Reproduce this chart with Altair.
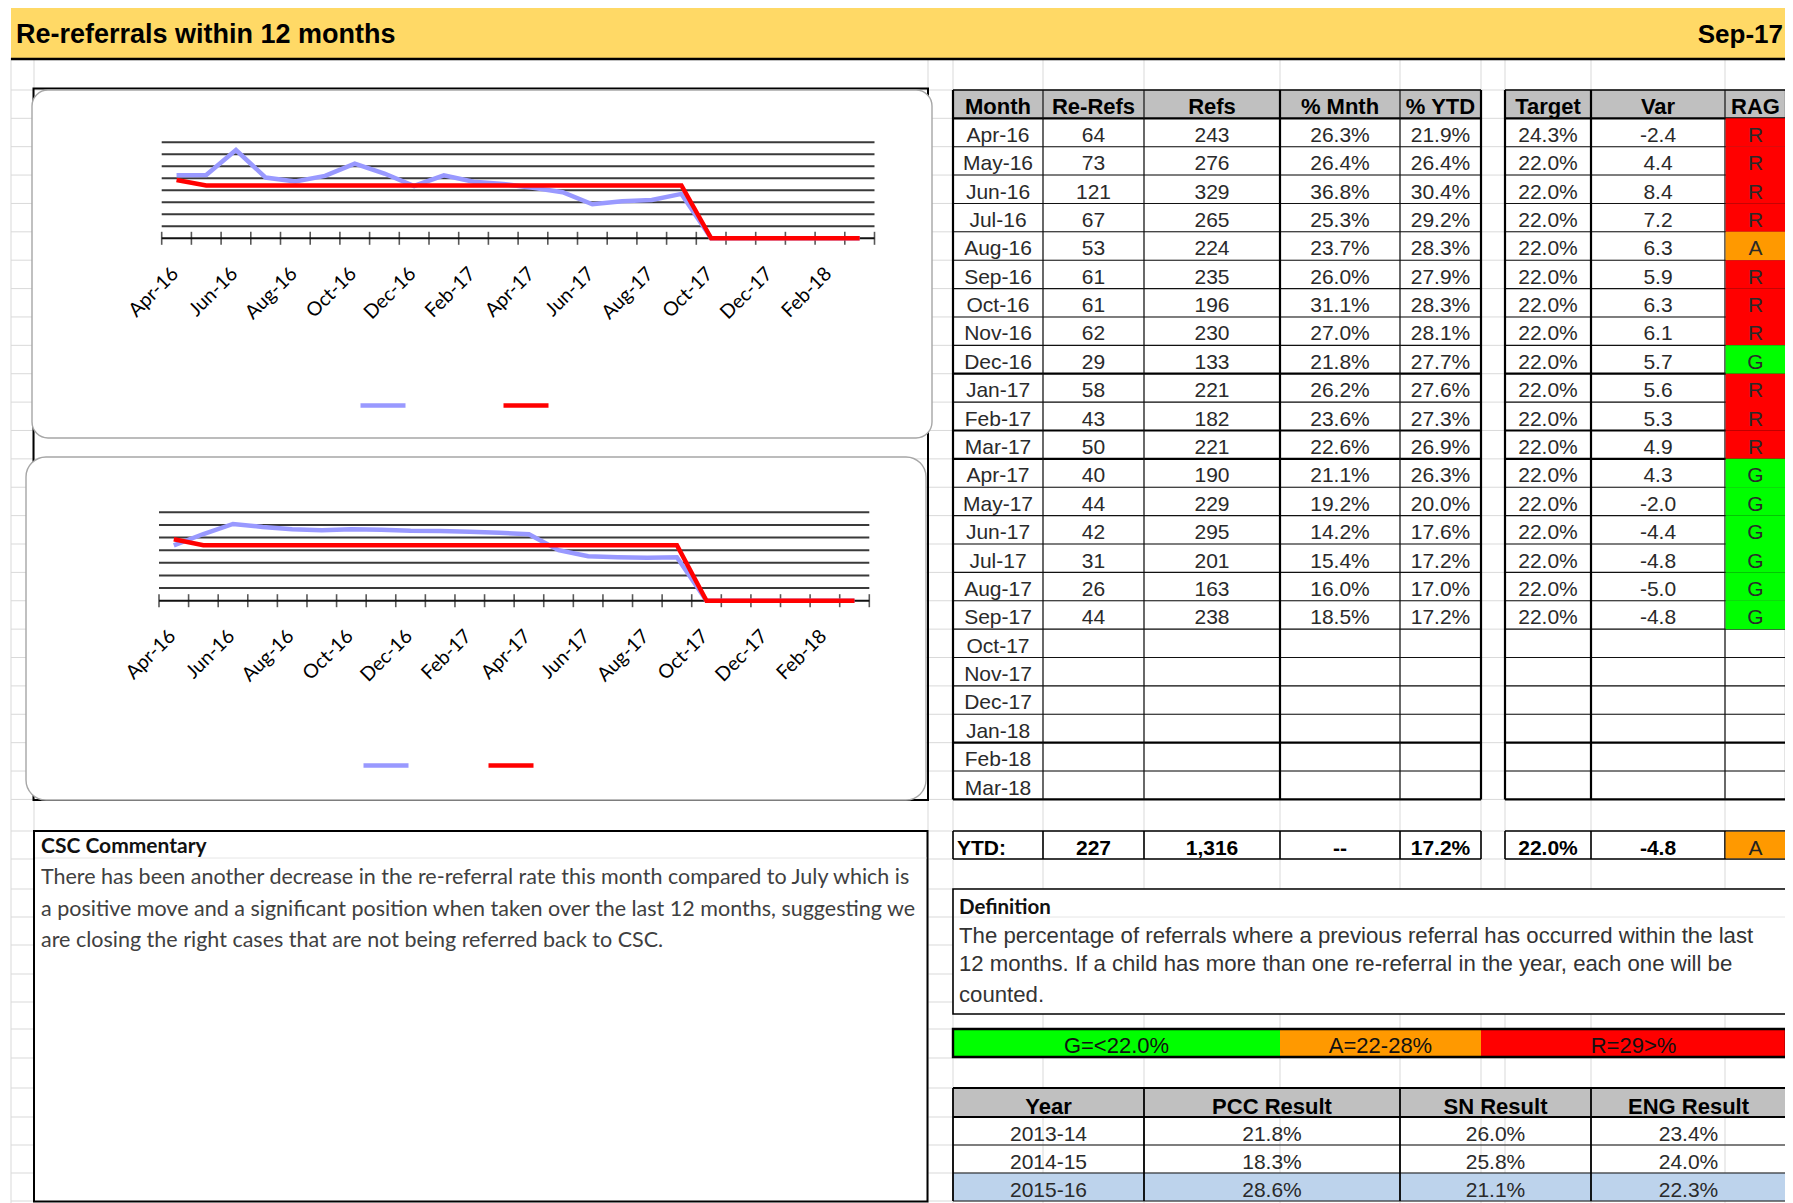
import altair as alt
import pandas as pd

# ------------------------------------------------------------------ data
months = ["Apr-16", "May-16", "Jun-16", "Jul-16", "Aug-16", "Sep-16", "Oct-16",
          "Nov-16", "Dec-16", "Jan-17", "Feb-17", "Mar-17", "Apr-17", "May-17",
          "Jun-17", "Jul-17", "Aug-17", "Sep-17", "Oct-17", "Nov-17", "Dec-17",
          "Jan-18", "Feb-18", "Mar-18"]
re_refs = [64, 73, 121, 67, 53, 61, 61, 62, 29, 58, 43, 50, 40, 44, 42, 31, 26, 44]
refs = [243, 276, 329, 265, 224, 235, 196, 230, 133, 221, 182, 221, 190, 229, 295, 201, 163, 238]
pct_mnth = [26.3, 26.4, 36.8, 25.3, 23.7, 26.0, 31.1, 27.0, 21.8, 26.2, 23.6, 22.6,
            21.1, 19.2, 14.2, 15.4, 16.0, 18.5]
pct_ytd = [21.9, 26.4, 30.4, 29.2, 28.3, 27.9, 28.3, 28.1, 27.7, 27.6, 27.3, 26.9,
           26.3, 20.0, 17.6, 17.2, 17.0, 17.2]
target = [24.3, 22.0, 22.0, 22.0, 22.0, 22.0, 22.0, 22.0, 22.0, 22.0, 22.0, 22.0,
          22.0, 22.0, 22.0, 22.0, 22.0, 22.0]
var = [-2.4, 4.4, 8.4, 7.2, 6.3, 5.9, 6.3, 6.1, 5.7, 5.6, 5.3, 4.9, 4.3, -2.0, -4.4, -4.8, -5.0, -4.8]
rag = ["R", "R", "R", "R", "A", "R", "R", "R", "G", "R", "R", "R", "G", "G", "G", "G", "G", "G"]

# series as plotted in the two charts (blank months are plotted as 0)
chart_mnth = [26.3, 26.4, 36.8, 25.3, 23.7, 26.0, 31.1, 27.0, 21.8, 26.2, 23.6, 22.6,
              21.1, 19.2, 14.2, 15.4, 16.0, 18.5, 0, 0, 0, 0, 0, 0]
chart_ytd = [21.9, 26.4, 30.4, 29.2, 28.3, 27.9, 28.3, 28.1, 27.7, 27.6, 27.3, 26.9,
             26.3, 20.0, 17.6, 17.2, 17.0, 17.2, 0, 0, 0, 0, 0, 0]
chart_target = [24.3, 22.0, 22.0, 22.0, 22.0, 22.0, 22.0, 22.0, 22.0, 22.0, 22.0, 22.0,
                22.0, 22.0, 22.0, 22.0, 22.0, 22.0, 0, 0, 0, 0, 0, 0]
axis_labels = ["Apr-16", "Jun-16", "Aug-16", "Oct-16", "Dec-16", "Feb-17",
               "Apr-17", "Jun-17", "Aug-17", "Oct-17", "Dec-17", "Feb-18"]
top_grid = [0.05, 0.10, 0.15, 0.20, 0.25, 0.30, 0.35, 0.40]
bottom_grid = [0.05, 0.10, 0.15, 0.20, 0.25, 0.30, 0.35]

headers = ["Month", "Re-Refs", "Refs", "% Mnth", "% YTD", "Target", "Var", "RAG"]
ytd_row = ["YTD:", "227", "1,316", "--", "17.2%", "22.0%", "-4.8", "A"]
ytd_rag = "A"

years = ["2013-14", "2014-15", "2015-16"]
pcc = [21.8, 18.3, 28.6]
sn = [26.0, 25.8, 21.1]
eng = [23.4, 24.0, 22.3]
year_headers = ["Year", "PCC Result", "SN Result", "ENG Result"]
rag_bands = ["G=<22.0%", "A=22-28%", "R=29>%"]

title = "Re-referrals within 12 months"
period = "Sep-17"
commentary_title = "CSC Commentary"
commentary = [
    "There has been another decrease in the re-referral rate this month compared to July  which is",
    "a positive move and a significant position when taken over the last 12 months, suggesting we",
    "are closing the right cases that are not being referred back to CSC.",
]
definition_title = "Definition"
definition = [
    "The percentage of referrals where a previous referral has occurred within the last",
    "12 months. If a child has more than one re-referral in the year, each one will be",
    "counted.",
]

# ------------------------------------------------------------------ layout / style
W, H, O = 1777, 1195, 8
SANS = "Liberation Sans, Arial, sans-serif"
CAL = "Lato, Carlito, Calibri, sans-serif"
RAG_COL = {"R": "#FF0000", "A": "#FF9900", "G": "#00FF00"}
GRID = "#D9D9D9"

ROW0, RH = 118.3, 28.38
def row_top(i):
    return ROW0 + RH * i

L_EDGES = [953, 1043, 1144, 1280, 1400, 1481]
R_EDGES = [1505, 1591, 1725, 1786]
SPANS = [(L_EDGES[k], L_EDGES[k + 1]) for k in range(5)] + [(R_EDGES[k], R_EDGES[k + 1]) for k in range(3)]
PARTS = [(953, 1481), (1505, 1786)]
Y_EDGES = [953, 1144, 1400, 1591, 1786]


def sx():
    return alt.Scale(domain=[O, O + W], range=[0, W], zero=False, nice=False)


def sy():
    return alt.Scale(domain=[O, O + H], range=[0, H], zero=False, nice=False)


def page_enc(x2=False, y2=False):
    e = {"x": alt.X("x:Q", scale=sx(), axis=None), "y": alt.Y("y:Q", scale=sy(), axis=None)}
    if x2:
        e["x2"] = alt.X2("x2:Q")
    if y2:
        e["y2"] = alt.Y2("y2:Q")
    return e


def segs(items, color, width):
    df = pd.DataFrame(items, columns=["x", "y", "x2", "y2"])
    return alt.Chart(df).mark_rule(color=color, strokeWidth=width).encode(**page_enc(True, True))


def hlines(ys, x0, x1, color="#111", width=1.1):
    return segs([(x0, y, x1, y) for y in ys], color, width)


def vlines(xs, y0, y1, color="#111", width=1.1):
    return segs([(x, y0, x, y1) for x in xs], color, width)


def boxes(items, **props):
    df = pd.DataFrame(items, columns=["x", "y", "x2", "y2", "fill"])
    return alt.Chart(df).mark_rect(**props).encode(
        **page_enc(True, True), color=alt.Color("fill:N", scale=None))


def outline(items, color="#000", width=2.0, **props):
    df = pd.DataFrame(items, columns=["x", "y", "x2", "y2"])
    return alt.Chart(df).mark_rect(fillOpacity=0, stroke=color, strokeWidth=width, **props).encode(
        **page_enc(True, True))


def texts(items, **props):
    df = pd.DataFrame(items, columns=["x", "y", "t"])
    return alt.Chart(df).mark_text(**props).encode(**page_enc(), text="t:N")


layers = []

# ---- spreadsheet gridlines
sheet_rows = [90] + [row_top(k) for k in range(25)] + [831, 859, 889, 917, 945, 974, 1002,
                                                       1029, 1058, 1088, 1117, 1145, 1173, 1201]
sheet_cols = [11, 34, 928, 953, 1043, 1144, 1280, 1400, 1481, 1505, 1591, 1725, 1786]
layers.append(hlines(sheet_rows, 11, 1786, GRID, 1))
layers.append(vlines(sheet_cols, 58, 1203, GRID, 1))

# ---- title bar
layers.append(boxes([(11, 5, 1786, 58, "#FFD966")]))
layers.append(hlines([59], 11, 1786, "#000", 2.5))
layers.append(texts([(16, 43, title)], font=SANS, fontSize=27, fontWeight="bold",
                    align="left", baseline="alphabetic", color="#000"))
layers.append(texts([(1783, 43, period)], font=SANS, fontSize=26, fontWeight="bold",
                    align="right", baseline="alphabetic", color="#000"))

# ---- chart area frame and chart boxes
layers.append(outline([(33.5, 88.5, 928, 800)], "#000", 2))
layers.append(boxes([(32, 90, 932, 438, "#FFFFFF")], stroke="#A6A6A6", strokeWidth=1.4, cornerRadius=16))
layers.append(boxes([(26, 457, 926, 800, "#FFFFFF")], stroke="#A6A6A6", strokeWidth=1.4, cornerRadius=20))


def line_panel(x0, x1, ydom, ybot, ytop, grid_vals, series_label, series_vals,
               leg_x, leg_y, leg_gap):
    xs = alt.Scale(domain=[-0.5, 23.5], range=[x0 - O, x1 - O], zero=False, nice=False)
    ys = alt.Scale(domain=ydom, range=[ybot - O, ytop - O], zero=False, nice=False)

    def X(f):
        return alt.X(f"{f}:Q", scale=xs, axis=None)

    def Y(f):
        return alt.Y(f"{f}:Q", scale=ys, axis=None)

    out = []
    gdf = pd.DataFrame({"v": grid_vals})
    gdf["a"] = -0.5
    gdf["b"] = 23.5
    out.append(alt.Chart(gdf).mark_rule(color="#3a3a3a", strokeWidth=2).encode(
        x=X("a"), x2=alt.X2("b:Q"), y=Y("v")))
    adf = pd.DataFrame({"v": [0.0], "a": [-0.5], "b": [23.5]})
    out.append(alt.Chart(adf).mark_rule(color="#111", strokeWidth=2).encode(
        x=X("a"), x2=alt.X2("b:Q"), y=Y("v")))
    tdf = pd.DataFrame({"b": [k - 0.5 for k in range(25)]})
    tdf["v"] = 0.0
    out.append(alt.Chart(tdf).mark_tick(orient="vertical", size=13, thickness=1.6, color="#111").encode(
        x=X("b"), y=Y("v")))
    labdf = pd.DataFrame({"i": list(range(0, 24, 2)), "t": axis_labels})
    labdf["v"] = 0.0
    out.append(alt.Chart(labdf).mark_text(angle=315, align="right", baseline="middle", dx=-24, dy=22,
                                          font=CAL, fontSize=19.5, color="#000").encode(
        x=X("i"), y=Y("v"), text="t:N"))
    rows = []
    for i, m in enumerate(months):
        rows.append({"i": i, "month": m, "v": series_vals[i] / 100, "s": series_label})
    for i, m in enumerate(months):
        rows.append({"i": i, "month": m, "v": chart_target[i] / 100, "s": "Target"})
    ldf = pd.DataFrame(rows)
    out.append(alt.Chart(ldf).mark_line(strokeWidth=4.5).encode(
        x=X("i"), y=Y("v"),
        color=alt.Color("s:N", scale=alt.Scale(domain=[series_label, "Target"],
                                               range=["#9999FF", "#FF0000"]),
                        legend=alt.Legend(title=None, orient="none", legendX=leg_x - O - 2,
                                          legendY=leg_y - O - 24.5, direction="horizontal",
                                          symbolType="stroke", symbolSize=2025,
                                          symbolStrokeWidth=4.5, labelExpr="''", labelOffset=0,
                                          labelFontSize=1, columnPadding=leg_gap, padding=0))))
    return out


layers += line_panel(161.7, 874.5, [0, 0.4], 238.3, 142.3, top_grid, "% Mnth", chart_mnth,
                     360, 405, 79)
layers += line_panel(159, 869.3, [0, 0.35], 600.7, 512.3, bottom_grid, "% YTD", chart_ytd,
                     363, 765, 61)

# ---- commentary box
layers.append(boxes([(34, 831, 927.5, 1201.5, "#FFFFFF")], stroke="#000", strokeWidth=2))
layers.append(hlines([858], 35, 926.5, "#E6E6E6", 1))
layers.append(texts([(41, 853, commentary_title)], font=CAL, fontSize=21, fontWeight="bold",
                    align="left", baseline="alphabetic", color="#111"))
layers.append(texts([(41, b, line) for b, line in zip([884, 916, 947], commentary)],
                    font=CAL, fontSize=21.5, align="left", baseline="alphabetic", color="#404040"))

# ---- main table
hdr = [(a, 90, b, ROW0, "#C0C0C0") for a, b in PARTS]
layers.append(boxes(hdr))
thick_rows = {9, 11, 12, 22, 24}
thin_ys = [row_top(k) for k in range(1, 25) if k not in thick_rows]
thick_ys = [row_top(k) for k in range(1, 25) if k in thick_rows]
for a, b in PARTS:
    layers.append(hlines(thin_ys, a, b, "#111", 1.1))
    layers.append(hlines(thick_ys + [ROW0], a, b, "#000", 2.2))
    layers.append(hlines([90], a, b, "#000", 1.6))
thick_x = [953, 1280, 1481, 1505, 1591, 1786]
thin_x = [1043, 1144, 1400, 1725]
layers.append(vlines(thin_x, 90, row_top(24), "#111", 1.2))
layers.append(vlines(thick_x, 90, row_top(24), "#000", 2.2))
layers.append(boxes([(1725.6, row_top(i), 1786, row_top(i + 1), RAG_COL[r]) for i, r in enumerate(rag)]))

layers.append(texts([((a + b) / 2, 114, h) for (a, b), h in zip(SPANS, headers)],
                    font=SANS, fontSize=22, fontWeight="bold", align="center",
                    baseline="alphabetic", color="#000"))
body = []
for i, m in enumerate(months):
    y = row_top(i) + 23.5
    cells = [m]
    if i < len(re_refs):
        cells += [str(re_refs[i]), str(refs[i]), f"{pct_mnth[i]:.1f}%", f"{pct_ytd[i]:.1f}%",
                  f"{target[i]:.1f}%", f"{var[i]:.1f}", rag[i]]
    for (a, b), c in zip(SPANS, cells):
        body.append(((a + b) / 2, y, c))
layers.append(texts(body, font=SANS, fontSize=21, align="center", baseline="alphabetic", color="#2a2a2a"))

# ---- YTD row
for a, b in PARTS:
    layers.append(hlines([831, 859], a, b, "#000", 1.6))
layers.append(vlines(L_EDGES + R_EDGES, 831, 859, "#000", 1.6))
layers.append(boxes([(1725.6, 831.8, 1786, 858.2, RAG_COL[ytd_rag])]))
ytd_items = [(957, 854.5, ytd_row[0])]
layers.append(texts(ytd_items, font=SANS, fontSize=21, fontWeight="bold", align="left",
                    baseline="alphabetic", color="#000"))
layers.append(texts([((a + b) / 2, 854.5, c) for (a, b), c in zip(SPANS[1:7], ytd_row[1:7])],
                    font=SANS, fontSize=21, fontWeight="bold", align="center",
                    baseline="alphabetic", color="#000"))
layers.append(texts([((1725 + 1786) / 2, 854.5, ytd_row[7])], font=SANS, fontSize=21,
                    align="center", baseline="alphabetic", color="#222"))

# ---- definition box
layers.append(boxes([(953, 889, 1786, 1014, "#FFFFFF")], stroke="#000", strokeWidth=1.6))
layers.append(hlines([917], 954, 1785, "#E6E6E6", 1))
layers.append(texts([(959, 914, definition_title)], font=CAL, fontSize=20.5, fontWeight="bold",
                    align="left", baseline="alphabetic", color="#111"))
layers.append(texts([(959, b, line) for b, line in zip([943, 971, 1002], definition)],
                    font=SANS, fontSize=22.2, align="left", baseline="alphabetic", color="#333"))

# ---- RAG band
band_edges = [953, 1280, 1481, 1786]
band_cols = ["#00FF00", "#FF9900", "#FF0000"]
layers.append(boxes([(band_edges[k], 1029, band_edges[k + 1], 1057, band_cols[k]) for k in range(3)]))
layers.append(outline([(953, 1029, 1786, 1057)], "#000", 2.4))
layers.append(texts([((band_edges[k] + band_edges[k + 1]) / 2, 1053, rag_bands[k]) for k in range(3)],
                    font=SANS, fontSize=22, align="center", baseline="alphabetic", color="#111"))

# ---- yearly comparison table
layers.append(boxes([(953, 1088, 1786, 1117, "#C0C0C0"), (953, 1173, 1786, 1201, "#BDD3EC")]))
layers.append(hlines([1145, 1173, 1201], 953, 1786, "#111", 1.1))
layers.append(hlines([1088, 1117], 953, 1786, "#000", 2.0))
layers.append(vlines(Y_EDGES, 1088, 1201, "#000", 1.8))
ycs = [((Y_EDGES[k] + Y_EDGES[k + 1]) / 2) for k in range(4)]
layers.append(texts([(c, 1113.5, h) for c, h in zip(ycs, year_headers)], font=SANS, fontSize=22,
                    fontWeight="bold", align="center", baseline="alphabetic", color="#000"))
yt = []
for r, (yr, p, s, e) in enumerate(zip(years, pcc, sn, eng)):
    yb = 1117 + 28.1 * r + 23.5
    for c, val in zip(ycs, [yr, f"{p:.1f}%", f"{s:.1f}%", f"{e:.1f}%"]):
        yt.append((c, yb, val))
layers.append(texts(yt, font=SANS, fontSize=21, align="center", baseline="alphabetic", color="#2a2a2a"))

chart = alt.layer(*layers).resolve_scale(
    x="independent", y="independent", color="independent"
).properties(
    width=W, height=H, autosize=alt.AutoSizeParams(type="none"), padding=0, background="white"
).configure_view(stroke=None)

chart.save("out.html", embed_options={"renderer": "svg", "actions": False})
